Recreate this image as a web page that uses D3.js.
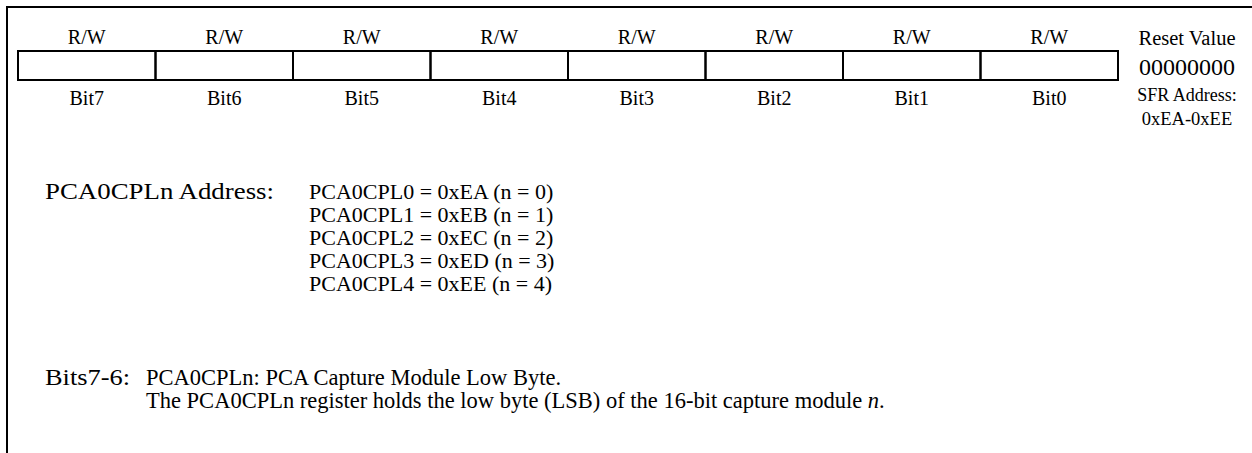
<!DOCTYPE html>
<html>
<head>
<meta charset="utf-8">
<script src="https://cdn.jsdelivr.net/npm/d3@7"></script>
<style>
  html, body { margin: 0; padding: 0; background: #fff; }
  svg { display: block; }
  text { font-family: "Liberation Serif", "Times New Roman", serif; fill: #000; }
</style>
</head>
<body>
<svg id="chart" width="1252" height="453"></svg>
<script>
// ---- data ----
const bitLabels = ["Bit7", "Bit6", "Bit5", "Bit4", "Bit3", "Bit2", "Bit1", "Bit0"];
const accessLabels = ["R/W", "R/W", "R/W", "R/W", "R/W", "R/W", "R/W", "R/W"];
const resetTitle = "Reset Value";
const resetValue = "00000000";
const sfrTitle = "SFR Address:";
const sfrAddress = "0xEA-0xEE";
const addrTitle = "PCA0CPLn Address:";
const regNames = ["PCA0CPL0", "PCA0CPL1", "PCA0CPL2", "PCA0CPL3", "PCA0CPL4"];
const regAddrs = ["0xEA", "0xEB", "0xEC", "0xED", "0xEE"];
const regN = [0, 1, 2, 3, 4];
const bitsField = "Bits7-6:";
const bitsLine1 = "PCA0CPLn: PCA Capture Module Low Byte.";
const bitsLine2 = "The PCA0CPLn register holds the low byte (LSB) of the 16-bit capture module ";
const bitsLine2Italic = "n";
const bitsLine2End = ".";

// ---- layout ----
const W = 1252, H = 453;
const svg = d3.select("#chart");

svg.append("path")
  .attr("d", `M7,${H} V7 H${W}`)
  .attr("fill", "none").attr("stroke", "#000").attr("stroke-width", 2);

const x = d3.scaleBand().domain(bitLabels).range([18, 1118]).padding(0);
const boxTop = 51, boxBot = 80;

const g = svg.append("g");
g.selectAll("rect.cell").data(bitLabels).join("rect")
  .attr("class", "cell")
  .attr("x", d => x(d)).attr("y", boxTop)
  .attr("width", x.bandwidth()).attr("height", boxBot - boxTop)
  .attr("fill", "none").attr("stroke", "#000").attr("stroke-width", 2);

g.selectAll("text.acc").data(bitLabels).join("text")
  .attr("class", "acc")
  .attr("x", d => x(d) + x.bandwidth() / 2).attr("y", 44)
  .attr("text-anchor", "middle").attr("font-size", 20)
  .text((d, i) => accessLabels[i]);

g.selectAll("text.bit").data(bitLabels).join("text")
  .attr("class", "bit")
  .attr("x", d => x(d) + x.bandwidth() / 2).attr("y", 105)
  .attr("text-anchor", "middle").attr("font-size", 20)
  .text(d => d);

const rcx = 1187;
svg.append("text").attr("x", rcx).attr("y", 45).attr("text-anchor", "middle").attr("font-size", 20.5).text(resetTitle);
svg.append("text").attr("x", rcx).attr("y", 75).attr("text-anchor", "middle").attr("font-size", 24).text(resetValue);
svg.append("text").attr("x", rcx).attr("y", 101).attr("text-anchor", "middle").attr("font-size", 18).text(sfrTitle);
svg.append("text").attr("x", rcx).attr("y", 125).attr("text-anchor", "middle").attr("font-size", 18.5).text(sfrAddress);

const bodySize = 22.5;
svg.append("text").attr("x", 45).attr("y", 199).attr("font-size", 23.5)
  .attr("textLength", 229).attr("lengthAdjust", "spacingAndGlyphs")
  .text(addrTitle);
const yRow = d3.scalePoint().domain(regNames).range([199, 291]);
svg.selectAll("text.reg").data(regNames).join("text")
  .attr("class", "reg")
  .attr("x", 309).attr("y", d => yRow(d))
  .attr("font-size", 22)
  .text((d, i) => `${d} = ${regAddrs[i]} (n = ${regN[i]})`);

svg.append("text").attr("x", 45).attr("y", 385).attr("font-size", 23.5)
  .attr("textLength", 85).attr("lengthAdjust", "spacingAndGlyphs")
  .text(bitsField);
svg.append("text").attr("x", 146).attr("y", 385).attr("font-size", bodySize).text(bitsLine1);
const t2 = svg.append("text").attr("x", 146).attr("y", 408).attr("font-size", bodySize);
t2.append("tspan").text(bitsLine2);
t2.append("tspan").attr("font-style", "italic").text(bitsLine2Italic);
t2.append("tspan").text(bitsLine2End);
</script>
</body>
</html>
